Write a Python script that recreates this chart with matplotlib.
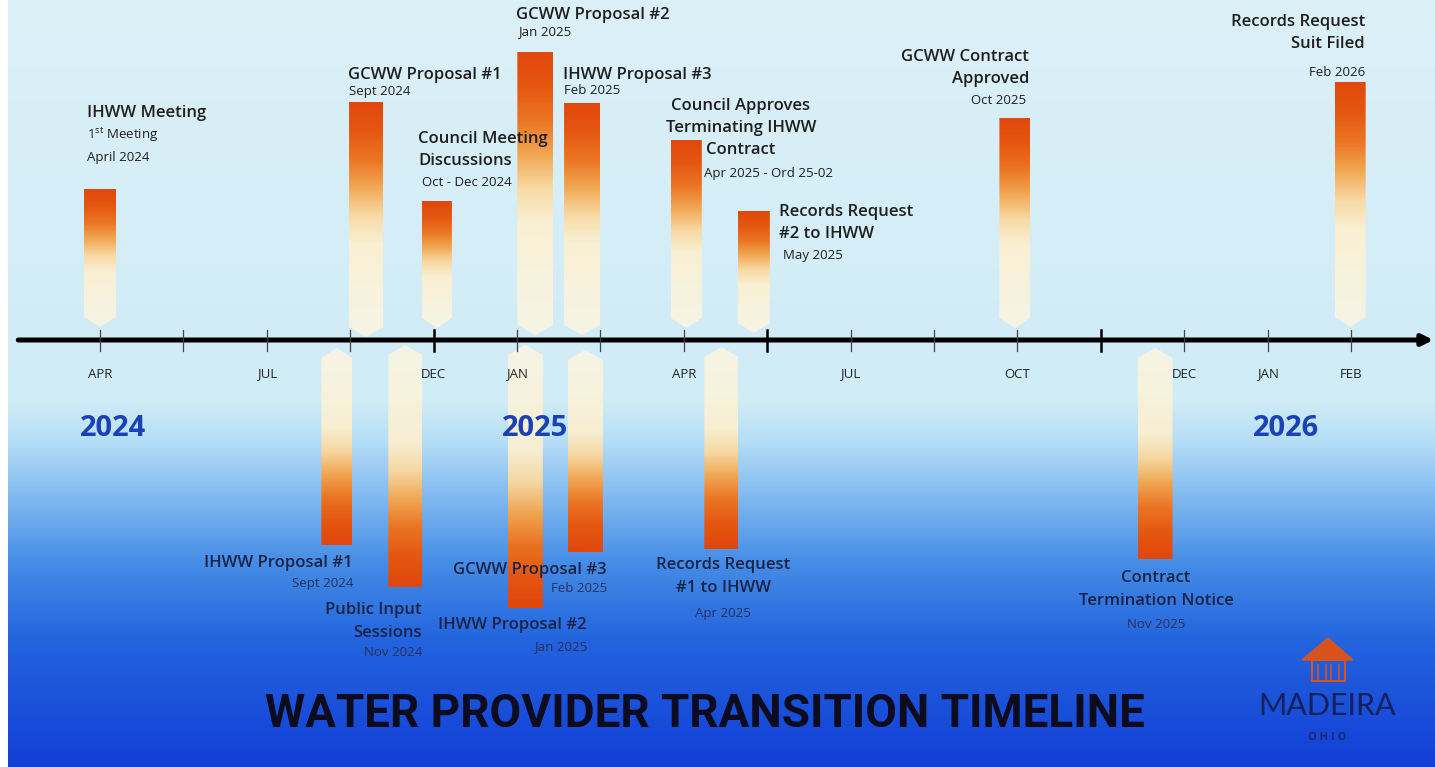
import numpy as np
import matplotlib
matplotlib.use("Agg")
import matplotlib.pyplot as plt
from matplotlib.patches import Polygon
from matplotlib.colors import LinearSegmentedColormap

W, H = 1435, 767

# timeline slots, one per tick mark
tick_labels = ["APR", "", "JUL", "", "DEC", "JAN", "", "APR", "", "JUL", "", "OCT", "", "DEC", "JAN", "FEB"]
strong_ticks = [4, 8, 12]
years = ["2024", "2025", "2026"]
year_at = [0.16, 5.22, 14.22]

# events above the line
up_title = ["IHWW Meeting", "GCWW Proposal #1", "Council Meeting\nDiscussions", "GCWW Proposal #2",
            "IHWW Proposal #3", "Council Approves\nTerminating IHWW\nContract", "Records Request\n#2 to IHWW",
            "GCWW Contract\nApproved", "Records Request\nSuit Filed"]
up_date = ["1$^{\\rm st}$ Meeting\nApril 2024", "Sept 2024", "Oct - Dec 2024", "Jan 2025", "Feb 2025",
           "Apr 2025 - Ord 25-02", "May 2025", "Oct 2025", "Feb 2026"]
up_at = [0.0, 3.19, 4.04, 5.22, 5.78, 7.03, 7.84, 10.97, 14.99]
up_top = [151, 238, 139, 288, 237, 200, 129, 222, 258]
up_tip = [13, 3, 12, 5, 5, 12, 7, 12, 13]
up_w = [32, 34, 30, 36, 36, 31, 32, 31, 31]

# events below the line
dn_title = ["IHWW Proposal #1", "Public Input\nSessions", "IHWW Proposal #2", "GCWW Proposal #3",
            "Records Request\n#1 to IHWW", "Contract\nTermination Notice"]
dn_date = ["Sept 2024", "Nov 2024", "Jan 2025", "Feb 2025", "Apr 2025", "Nov 2025"]
dn_at = [2.84, 3.66, 5.10, 5.82, 7.45, 12.65]
dn_depth = [205, 247, 268, 212, 209, 219]
dn_tip = [8, 5, 5, 10, 7, 8]
dn_w = [31, 34, 35, 35, 34, 35]

# label layout (pixel positions): title x, y, align, date x, y
up_layout = [(87, 113, "left", 87, 135), (348, 75, "left", 349, 91), (418, 139, "left", 422, 182),
             (516, 15, "left", 518, 32), (563, 75, "left", 564, 91), (741, 106, "center", 704, 173),
             (779, 212, "left", 783, 255), (1029, 57, "right", 1026, 101), (1365, 22, "right", 1365, 73)]
dn_layout = [(353, 563, "right", 353, 583), (422, 610, "right", 422, 653), (587, 625, "right", 587, 647),
             (607, 570, "right", 607, 589), (723, 565, "center", 723, 613), (1156, 578, "center", 1156, 625)]

plt.rcParams["font.family"] = ["Open Sans", "DejaVu Sans"]
plt.rcParams["mathtext.fontset"] = "custom"
plt.rcParams["mathtext.rm"] = "Open Sans"

px = 83.4  # pixels per slot
fig = plt.figure(figsize=(W / 100, H / 100), dpi=100)
ax = fig.add_axes([0, 0, 1, 1])
ax.axis("off")

# background gradient
stops = [(0, (220, 240, 247)), (400, (208, 236, 247)), (440, (182, 222, 246)), (490, (135, 190, 240)),
         (560, (70, 142, 230)), (640, (35, 100, 222)), (767, (18, 62, 214))]
rows = np.arange(H)
bg = np.zeros((H, 1, 3))
for c in range(3):
    bg[:, 0, c] = np.interp(rows, [s[0] for s in stops], [s[1][c] for s in stops]) / 255
xl = (-100 / px, (W - 100) / px)
yl = (340 - H, 340)
ax.imshow(bg, extent=(xl[0], xl[1], yl[0], yl[1]), aspect="auto", zorder=0, origin="upper")

bar_cmap = LinearSegmentedColormap.from_list("bar", [
    (0.0, "#fff7e2"), (0.40, "#fdf0d0"), (0.52, "#f9d9a0"), (0.64, "#f2a650"),
    (0.76, "#ec731f"), (0.88, "#e6560f"), (1.0, "#e2470c")])
grad = np.linspace(0, 1, 200)
grad_rgba = bar_cmap(grad)
grad_rgba[:, 3] = np.interp(grad, [0, 0.4, 0.55, 1], [0.8, 0.93, 0.98, 1.0])
grad_rgba = grad_rgba.reshape(-1, 1, 4)


def draw_bar(x, wpx, tip, end, up):
    w = wpx / px / 2
    sh = 10
    if up:
        pts = [(x - w, end), (x + w, end), (x + w, tip + sh), (x, tip), (x - w, tip + sh)]
        g, lo, hi = grad_rgba, tip, end
    else:
        pts = [(x - w, -end), (x + w, -end), (x + w, -tip - sh), (x, -tip), (x - w, -tip - sh)]
        g, lo, hi = grad_rgba[::-1], -end, -tip
    poly = Polygon(pts, closed=True, facecolor="none", edgecolor="none")
    ax.add_patch(poly)
    im = ax.imshow(g, extent=(x - w, x + w, lo, hi), origin="lower",
                   aspect="auto", zorder=2, interpolation="bilinear")
    im.set_clip_path(poly)


for i in range(len(up_at)):
    draw_bar(up_at[i], up_w[i], up_tip[i], up_top[i], True)
for i in range(len(dn_at)):
    draw_bar(dn_at[i], dn_w[i], dn_tip[i], dn_depth[i], False)

# timeline
ax.annotate("", xy=(xl[1] - 0.02, 0), xytext=(-0.98, 0),
            arrowprops=dict(arrowstyle="-|>", lw=3.6, color="black", mutation_scale=16,
                            shrinkA=0, shrinkB=0), zorder=4)
for i, lab in enumerate(tick_labels):
    strong = i in strong_ticks
    ax.plot([i, i], [-11, 10], color="black" if strong else "#444444", lw=1.8 if strong else 0.9, zorder=5)
    if lab:
        ax.text(i, -34, lab, ha="center", va="center", fontsize=9.5, color="#222222", zorder=5)
for y, pos in zip(years, year_at):
    ax.text(pos, -88, y, ha="center", va="center", fontsize=21, fontweight="bold", color="#1a42b6", zorder=5)

ax.set_xlim(*xl)
ax.set_ylim(*yl)

# overlay in pixel units for labels and logo
ov = fig.add_axes([0, 0, 1, 1])
ov.set_xlim(0, W)
ov.set_ylim(H, 0)
ov.axis("off")
ov.patch.set_alpha(0)


def lines(text, x, y, ha, gap, **kw):
    for k, line in enumerate(text.split("\n")):
        ov.text(x, y + gap * k, line, ha=ha, va="center", **kw)


for t, d, (tx, ty, ha, dx, dy) in zip(up_title, up_date, up_layout):
    lines(t, tx, ty, ha, 22, fontsize=12, fontweight="semibold", color="#1e1e1e")
    dha = "right" if ha == "right" else "left"
    lines(d, dx, dy, dha, 22, fontsize=9.5, color="#1e1e1e")

for t, d, (tx, ty, ha, dx, dy) in zip(dn_title, dn_date, dn_layout):
    lines(t, tx, ty, ha, 23, fontsize=12, fontweight="semibold", color="#1c2244")
    ov.text(dx, dy, d, ha=ha, va="center", fontsize=9.5, color="#27305a")

ov.text(705, 714, "WATER PROVIDER TRANSITION TIMELINE", ha="center", va="center", fontsize=33,
        fontweight="bold", color="#0c0c1e", family=["Liberation Sans Narrow", "Roboto", "DejaVu Sans"])

# Madeira logo
orange = "#d8531c"
ov.add_patch(Polygon([(1302, 660), (1328, 638), (1353, 660)], closed=True, facecolor=orange, edgecolor=orange))
ov.add_patch(Polygon([(1312, 660), (1345, 660), (1345, 681), (1312, 681)], closed=True, facecolor="none",
                     edgecolor=orange, lw=1.5))
for xx in [1318, 1326, 1331, 1339]:
    ov.plot([xx, xx], [665, 681], color=orange, lw=1.2)
ov.text(1327, 706, "MADEIRA", ha="center", va="center", fontsize=22, color="#16205a",
        family=["Lato", "DejaVu Sans"])
ov.text(1327, 737, "O H I O", ha="center", va="center", fontsize=8, color="#1a2670", fontweight="bold")

# scanned page edge
ov.add_patch(Polygon([(0, 0), (8, 0), (8, H), (0, H)], closed=True, facecolor="white", edgecolor="none"))

fig.savefig("out.png", dpi=100)
